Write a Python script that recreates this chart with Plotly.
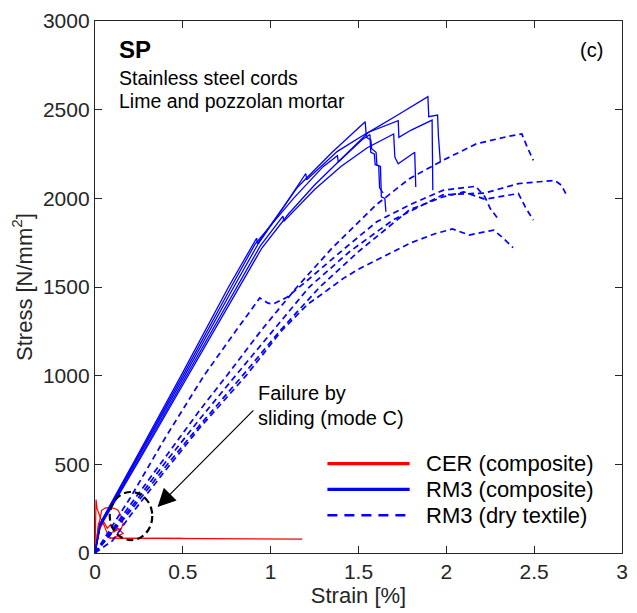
import plotly.graph_objects as go

# ---------------- data (strain [%], stress [N/mm2]) ----------------
# CER (composite) - red
cer1_x = [0.0, 0.003, 0.006, 0.012, 0.03, 0.05, 0.07, 0.09, 0.3, 0.6, 0.9, 1.18]
cer1_y = [0, 150, 301, 250, 200, 160, 110, 84, 83, 82, 80, 78]
cer2_x = [0.0, 0.02, 0.038, 0.06, 0.084, 0.11, 0.131, 0.15, 0.16, 0.15, 0.125, 0.103, 0.085, 0.075, 0.084, 0.2, 0.5]
cer2_y = [0, 150, 241, 255, 256, 252, 241, 204, 166, 138, 128, 120, 108, 92, 84, 84, 83]
cer3_x = [0.0, 0.01, 0.02, 0.035, 0.05, 0.07, 0.09, 0.11, 0.13, 0.16, 0.12, 0.1, 0.12]
cer3_y = [0, 100, 170, 150, 175, 140, 160, 120, 140, 110, 95, 84, 84]

# RM3 (composite) - solid blue
rm3c1_x = [0.0, 0.03, 0.25, 0.53, 0.82, 0.95, 1.10, 1.25, 1.40, 1.557, 1.716, 1.895, 1.900, 1.950, 1.955, 1.966]
rm3c1_y = [0, 150, 520, 1000, 1500, 1720, 1910, 2075, 2220, 2372, 2466, 2573, 2460, 2470, 2350, 2204]
rm3c2_x = [0.0, 0.03, 0.25, 0.51, 0.79, 0.93, 1.08, 1.20, 1.205, 1.38, 1.55, 1.726, 1.730, 1.80, 1.919, 1.921, 1.923]
rm3c2_y = [0, 160, 545, 1000, 1500, 1745, 1960, 2140, 2105, 2265, 2370, 2438, 2344, 2385, 2441, 2250, 2045]
rm3c3_x = [0.0, 0.03, 0.25, 0.52, 0.81, 0.94, 1.07, 1.075, 1.25, 1.40, 1.55, 1.70, 1.707, 1.726, 1.82, 1.823, 1.826]
rm3c3_y = [0, 155, 530, 1000, 1500, 1730, 1900, 1870, 2050, 2180, 2285, 2363, 2232, 2195, 2260, 2150, 2064]
rm3c4_x = [0.0, 0.03, 0.25, 0.49, 0.76, 0.92, 0.925, 1.154, 1.35, 1.538, 1.545, 1.57, 1.575, 1.60, 1.605, 1.625, 1.63, 1.65, 1.656]
rm3c4_y = [0, 170, 565, 1000, 1500, 1775, 1745, 2064, 2260, 2432, 2344, 2330, 2280, 2260, 2186, 2180, 2008, 2000, 1924]
rm3c5_x = [0.0, 0.03, 0.25, 0.50, 0.775, 0.91, 1.13, 1.30, 1.38, 1.385, 1.52, 1.565, 1.57, 1.59, 1.595, 1.615, 1.62, 1.64]
rm3c5_y = [0, 165, 555, 1000, 1500, 1740, 2000, 2180, 2240, 2205, 2330, 2360, 2260, 2250, 2190, 2185, 2060, 2030]

# RM3 (dry textile) - dashed blue
rm3d1_x = [0.0, 0.2, 0.4, 0.6, 0.75, 0.95, 1.15, 1.35, 1.6, 1.79, 1.98, 2.17, 2.354, 2.43, 2.46, 2.495]
rm3d1_y = [0, 270, 545, 810, 1000, 1260, 1500, 1720, 1963, 2111, 2214, 2307, 2350, 2363, 2290, 2214]
rm3d2_x = [0.0, 0.2, 0.4, 0.6, 0.8, 1.0, 1.22, 1.45, 1.7, 1.98, 2.22, 2.41, 2.617, 2.654, 2.68]
rm3d2_y = [0, 250, 510, 760, 1000, 1240, 1500, 1700, 1880, 2020, 2030, 2083, 2101, 2075, 2027]
rm3d3_x = [0.0, 0.2, 0.4, 0.62, 0.8, 0.938, 0.985, 1.013, 1.09, 1.2, 1.4, 1.604, 1.79, 1.98, 2.167, 2.22, 2.25, 2.30]
rm3d3_y = [0, 310, 650, 1000, 1250, 1438, 1409, 1404, 1440, 1530, 1700, 1868, 1963, 2045, 2068, 2008, 1942, 1877]
rm3d4_x = [0.0, 0.2, 0.4, 0.6, 0.84, 1.05, 1.28, 1.5, 1.79, 1.98, 2.10, 2.22, 2.41, 2.45, 2.495]
rm3d4_y = [0, 235, 485, 725, 1000, 1250, 1500, 1700, 1935, 2008, 2036, 1995, 2027, 1950, 1877]
rm3d5_x = [0.0, 0.1, 0.2, 0.4, 0.6, 0.86, 1.06, 1.21, 1.30, 1.416, 1.51, 1.66, 1.80, 1.94, 2.035, 2.13, 2.27, 2.33, 2.38]
rm3d5_y = [0, 70, 210, 465, 710, 1000, 1251, 1402, 1466, 1550, 1606, 1681, 1750, 1802, 1827, 1793, 1821, 1770, 1722]

legend_labels = ["CER (composite)", "RM3 (composite)", "RM3 (dry textile)"]
x_ticks = [0, 0.5, 1, 1.5, 2, 2.5, 3]
x_ticktext = ["0", "0.5", "1", "1.5", "2", "2.5", "3"]
y_ticks = [0, 500, 1000, 1500, 2000, 2500, 3000]

RED = "#FF0000"
BLUE = "#0000FF"
TXT = "#262626"
FONT = "Liberation Sans, Arial, sans-serif"

fig = go.Figure()

for xs, ys in [(cer1_x, cer1_y), (cer2_x, cer2_y), (cer3_x, cer3_y)]:
    fig.add_trace(go.Scatter(x=xs, y=ys, mode="lines",
                             line=dict(color=RED, width=1.2), showlegend=False))

for xs, ys in [(rm3d1_x, rm3d1_y), (rm3d2_x, rm3d2_y), (rm3d3_x, rm3d3_y),
               (rm3d4_x, rm3d4_y), (rm3d5_x, rm3d5_y)]:
    fig.add_trace(go.Scatter(x=xs, y=ys, mode="lines",
                             line=dict(color=BLUE, width=1.7, dash="6px,4px"),
                             showlegend=False))

for xs, ys in [(rm3c1_x, rm3c1_y), (rm3c2_x, rm3c2_y), (rm3c3_x, rm3c3_y),
               (rm3c4_x, rm3c4_y), (rm3c5_x, rm3c5_y)]:
    fig.add_trace(go.Scatter(x=xs, y=ys, mode="lines",
                             line=dict(color=BLUE, width=1.3), showlegend=False))

shapes = []
# dashed circle marking sliding failure
shapes.append(dict(type="circle", xref="x", yref="y", x0=0.084, x1=0.326, y0=73, y1=344,
                   line=dict(color="black", width=2.2, dash="7px,4px")))

# custom legend (paper coordinates)
leg_y = [0.168, 0.1196, 0.071]
leg_styles = [dict(color=RED, width=3.2), dict(color=BLUE, width=3.2),
              dict(color=BLUE, width=2.6, dash="10px,7px")]
annotations = []
for ly, st, lab in zip(leg_y, leg_styles, legend_labels):
    shapes.append(dict(type="line", xref="paper", yref="paper", x0=0.441, x1=0.597,
                       y0=ly, y1=ly, line=st))
    annotations.append(dict(xref="paper", yref="paper", x=0.624, y=ly, text=lab,
                            showarrow=False, xanchor="left", yanchor="middle",
                            font=dict(size=22, color="black", family=FONT)))

annotations += [
    dict(xref="paper", yref="paper", x=0.041, y=0.946, text="<b>SP</b>", showarrow=False,
         xanchor="left", yanchor="middle", font=dict(size=24, color="black", family=FONT)),
    dict(xref="paper", yref="paper", x=0.041, y=0.893, text="Stainless steel cords",
         showarrow=False, xanchor="left", yanchor="middle",
         font=dict(size=19.5, color="black", family=FONT)),
    dict(xref="paper", yref="paper", x=0.041, y=0.849, text="Lime and pozzolan mortar",
         showarrow=False, xanchor="left", yanchor="middle",
         font=dict(size=19.5, color="black", family=FONT)),
    dict(xref="paper", yref="paper", x=0.968, y=0.946, text="(c)", showarrow=False,
         xanchor="right", yanchor="middle", font=dict(size=20, color="black", family=FONT)),
    dict(xref="paper", yref="paper", x=0.305, y=0.301, text="Failure by", showarrow=False,
         xanchor="left", yanchor="middle", font=dict(size=20, color="black", family=FONT)),
    dict(xref="paper", yref="paper", x=0.305, y=0.254, text="sliding (mode C)",
         showarrow=False, xanchor="left", yanchor="middle",
         font=dict(size=20, color="black", family=FONT)),
    dict(xref="x", yref="y", axref="x", ayref="y", x=0.356, y=260, ax=0.91, ay=813,
         text="", showarrow=True, arrowhead=2, arrowsize=3, arrowwidth=1.2,
         arrowcolor="black"),
]

axis_common = dict(showline=True, linecolor=TXT, linewidth=1.3, mirror="ticks",
                   ticks="inside", ticklen=7, tickwidth=1.2, tickcolor=TXT,
                   showgrid=False, zeroline=False,
                   tickfont=dict(size=21, color=TXT, family=FONT))

fig.update_layout(
    width=637, height=613,
    margin=dict(l=95, r=9, t=18, b=60),
    plot_bgcolor="white", paper_bgcolor="white",
    font=dict(family=FONT, color=TXT),
    shapes=shapes, annotations=annotations, showlegend=False,
    xaxis=dict(range=[0, 3], tickvals=x_ticks, ticktext=x_ticktext,
               title=dict(text="Strain [%]", font=dict(size=22, color=TXT, family=FONT),
                          standoff=2),
               **axis_common),
    yaxis=dict(range=[0, 3000], tickvals=y_ticks,
               title=dict(text="Stress [N/mm<sup>2</sup>]",
                          font=dict(size=22, color=TXT, family=FONT), standoff=4),
               **axis_common),
)

fig.write_html("out.html")
